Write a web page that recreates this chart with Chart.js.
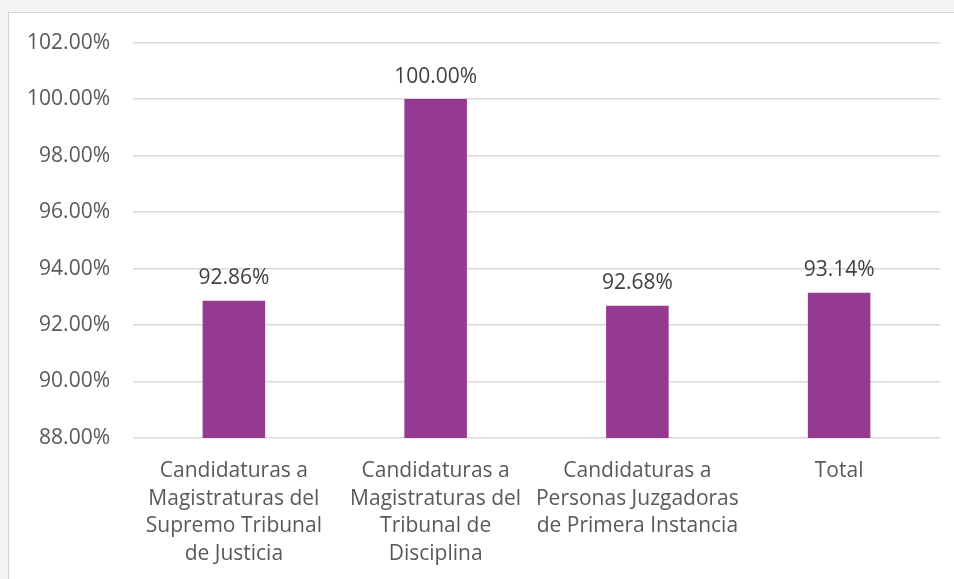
<!DOCTYPE html>
<html>
<head>
<meta charset="utf-8">
<script src="https://cdn.jsdelivr.net/npm/chart.js@4"></script>
<style>
  html, body { margin: 0; padding: 0; background: #f3f3f3; width: 954px; height: 579px; overflow: hidden; }
  #panel { position: absolute; left: 8px; top: 12px; width: 960px; height: 580px; background: #ffffff; border: 1px solid #d4d4d4; }
  #wrap { position: absolute; left: 9px; top: 7px; width: 945px; height: 572px; }
</style>
</head>
<body>
<div id="panel"></div>
<div id="wrap"><canvas id="c"></canvas></div>
<script>
const categories = [
  ["Candidaturas a", "Magistraturas del", "Supremo Tribunal", "de Justicia"],
  ["Candidaturas a", "Magistraturas del", "Tribunal de", "Disciplina"],
  ["Candidaturas a", "Personas Juzgadoras", "de Primera Instancia"],
  ["Total"]
];
const values = [92.86, 100.00, 92.68, 93.14];
const yMin = 88, yMax = 102, yStep = 2;

const FONT = "'Open Sans', sans-serif";
const TEXT = '#595959';

const valueLabels = {
  id: 'valueLabels',
  afterDatasetsDraw(chart) {
    const ctx = chart.ctx;
    const meta = chart.getDatasetMeta(0);
    ctx.save();
    ctx.font = "21px " + FONT;
    ctx.fillStyle = '#404040';
    ctx.textAlign = 'center';
    ctx.textBaseline = 'bottom';
    meta.data.forEach((bar, i) => {
      ctx.fillText(values[i].toFixed(2) + '%', bar.x, bar.y - 12);
    });
    ctx.restore();
  }
};

new Chart(document.getElementById('c'), {
  type: 'bar',
  data: {
    labels: categories,
    datasets: [{
      data: values,
      backgroundColor: '#953a90',
      categoryPercentage: 1,
      barPercentage: 0.31
    }]
  },
  options: {
    responsive: true,
    maintainAspectRatio: false,
    animation: false,
    layout: { padding: { top: 10, right: 14, left: 0, bottom: 0 } },
    plugins: { legend: { display: false }, tooltip: { enabled: false } },
    scales: {
      x: {
        grid: { display: false, drawTicks: false },
        border: { display: false },
        ticks: { color: TEXT, font: { family: FONT, size: 21, lineHeight: 1.32 }, padding: 19, maxRotation: 0, autoSkip: false },
        afterFit(s) { s.height = 141; }
      },
      y: {
        min: yMin, max: yMax,
        grid: { color: '#d9d9d9', lineWidth: 1.5, drawTicks: false },
        border: { display: false },
        ticks: { stepSize: yStep, color: TEXT, font: { family: FONT, size: 21 }, padding: 23,
          callback: v => v.toFixed(2) + '%' },
        afterFit(s) { s.width = 124; }
      }
    }
  },
  plugins: [valueLabels]
});
</script>
</body>
</html>
